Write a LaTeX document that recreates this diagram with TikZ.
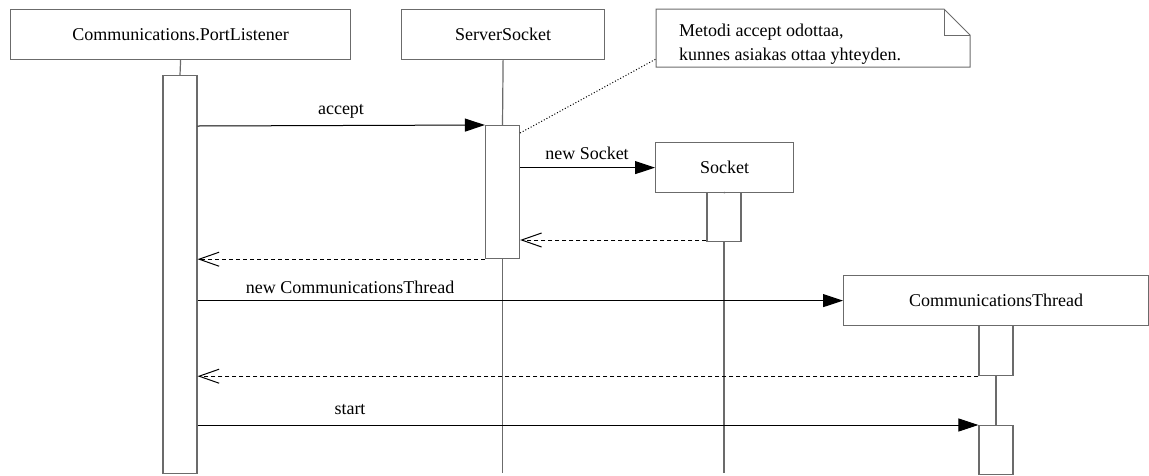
\documentclass[tikz,border=0pt]{standalone}
\usepackage{fontspec}
\setmainfont{Liberation Serif}
\usetikzlibrary{arrows.meta}
\definecolor{linegray}{rgb}{0.42,0.42,0.42}
\begin{document}
\begin{tikzpicture}[x=1pt,y=-1pt,
  txt/.style={font=\fontsize{18}{22}\selectfont, inner sep=0pt},
  obj/.style={txt, draw=linegray, line width=1.2pt, fill=white, minimum height=50pt, anchor=north west},
  act/.style={draw=linegray, line width=1.2pt, fill=white, minimum width=34pt, inner sep=0pt, anchor=north},
  life/.style={draw=linegray, line width=1.2pt},
  msg/.style={line width=1pt, -{Triangle[length=20pt,width=13pt]}},
  ret/.style={line width=1pt, dash pattern=on 4pt off 3pt, -{Straight Barb[length=20pt,width=14pt,line width=1pt]}},
  lbl/.style={txt}
]
\useasboundingbox (0,0) rectangle (1149,475);

% objects
\node[obj, minimum width=340pt] (pl) at (10,9) {Communications.PortListener};
\node[obj, minimum width=203pt] (ss) at (401,9) {ServerSocket};
\node[obj, minimum width=138pt] (sk) at (655,142) {Socket};
\node[obj, minimum width=305pt] (ct) at (843,275) {CommunicationsThread};

% lifeline ends
\coordinate (ssEnd) at (502.5,473);
\coordinate (skEnd) at (724,473);

% activations
\node[act, minimum height=398pt] (plA) at (180,75) {};
\node[act, minimum height=133pt] (ssA) at (502.5,125) {};
\node[act, minimum height=49pt]  (skA) at (724,192) {};
\node[act, minimum height=50pt]  (ctA) at (996,325) {};
\node[act, minimum height=49pt]  (ctB) at (996,425) {};

% lifelines
\draw[life] (pl.south) -- (plA.north);
\draw[life] (ss.south) -- (ssA.north);
\draw[life] (ssA.south) -- (ssEnd);
\draw[life] (sk.south) -- (skA.north);
\draw[life] (skA.south) -- (skEnd);
\draw[life] (ctA.south) -- (ctB.north);

% note
\coordinate (nNW) at (656,9);
\coordinate (nSE) at (970,67);
\draw[life, line width=1pt] (656,9) -- (944,9) -- (970,35) -- (970,67) -- (656,67) -- cycle;
\draw[life, line width=1pt] (944,9) -- (944,35) -- (970,35);
\node[txt, anchor=base west] (n1) at (679,36) {Metodi accept odottaa,};
\node[txt, anchor=base west] (n2) at (679,60) {kunnes asiakas ottaa yhteyden.};
\coordinate (nAnchor) at (656,59);
\draw[line width=1pt, dotted] (ssA.north east |- 0,133) -- (nAnchor);

% messages
\draw[msg] (plA.east |- 0,126) -- (ssA.north west);
\node[lbl] (mAccept) at (341,111) {accept};

\draw[msg] (ssA.east |- sk.west) -- (sk.west);
\node[lbl] (mNewSocket) at (587,153) {new Socket};

\draw[ret] (skA.west |- 0,240) -- (ssA.east |- 0,240);
\draw[ret] (ssA.south west) -- (plA.east |- ssA.south);

\draw[msg] (plA.east |- ct.west) -- (ct.west);
\node[lbl] (mNewCT) at (350,287) {new CommunicationsThread};

\draw[ret] (ctA.south west) -- (plA.east |- ctA.south);

\draw[msg] (plA.east |- ctB.north) -- (ctB.north west);
\node[lbl] (mStart) at (350,410) {start};
\end{tikzpicture}
\end{document}
